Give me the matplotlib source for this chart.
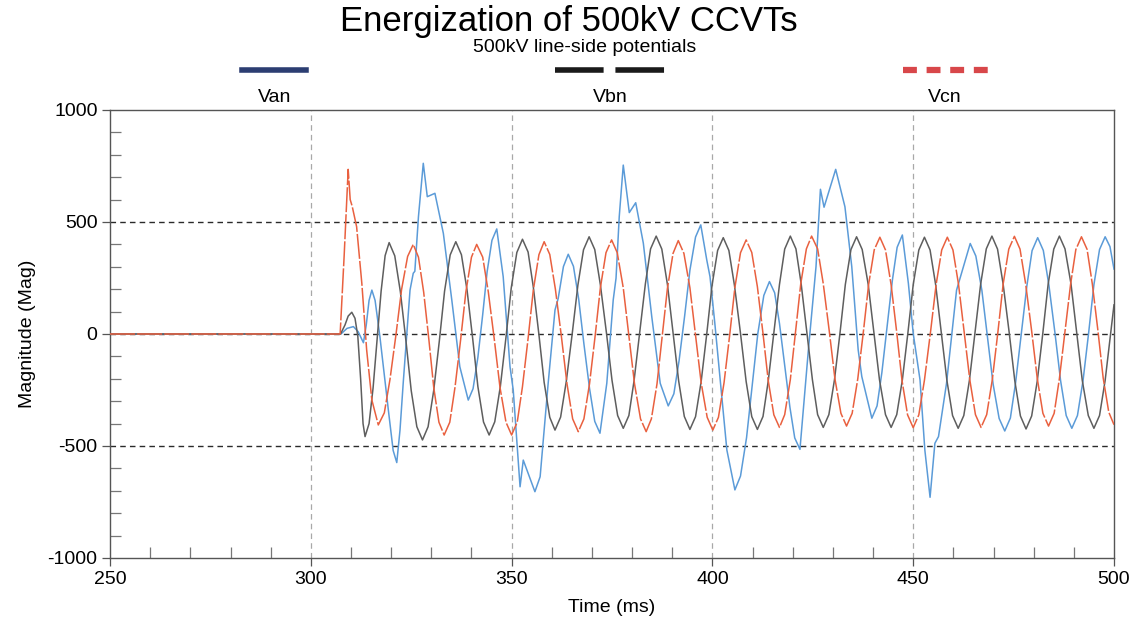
import numpy as np
import matplotlib
matplotlib.use("Agg")
import matplotlib.pyplot as plt
from matplotlib.lines import Line2D
from matplotlib.ticker import MultipleLocator

plt.rcParams['font.family'] = ['Liberation Sans Narrow', 'Liberation Sans', 'DejaVu Sans']
plt.rcParams['lines.scale_dashes'] = False
plt.rcParams['axes.unicode_minus'] = False

TITLE = "Energization of 500kV CCVTs"
SUBTITLE = "500kV line-side potentials"
SERIES_NAMES = ["Van", "Vbn", "Vcn"]

# (time ms, magnitude) points
VAN = [
    (250, 0), (307.5, 0), (309.0, 25), (310.6, 33), (311.8, 10), (313.1, -39),
    (313.8, 40), (314.5, 150), (315.2, 196), (316.0, 150), (317.2, -12),
    (319.3, -339), (320.5, -520), (321.4, -574), (322.2, -430), (323.0, -220),
    (324.7, 196), (325.5, 271), (325.9, 280), (326.8, 524), (328.0, 762),
    (329.0, 613), (330.9, 628), (333.0, 449), (335.1, 152), (337.1, -146),
    (339.2, -295), (340.4, -244), (341.6, -104), (342.8, 87), (343.9, 278),
    (345.1, 418), (346.3, 469), (347.9, 256), (349.6, -146), (350.4, -250),
    (352.1, -682), (352.9, -563), (355.8, -704), (357.1, -637), (359.1, -220),
    (360.8, 107), (361.6, 159), (362.9, 301), (364.1, 356), (365.4, 302),
    (366.7, 156), (368.0, -44), (369.4, -243), (370.7, -390), (372.0, -443),
    (373.7, -220), (375.3, 152), (376.0, 249), (376.8, 524), (377.8, 754),
    (379.3, 542), (380.9, 586), (382.8, 405), (384.9, 77), (387.0, -220),
    (389.0, -321), (390.4, -267), (391.7, -119), (393.1, 83), (394.4, 285),
    (395.8, 433), (397.1, 487), (398.6, 330), (399.4, 256), (400.6, 48),
    (401.9, -198), (403.6, -518), (405.6, -696), (407.0, -634), (408.5, -463),
    (409.9, -231), (411.3, 1), (412.8, 172), (414.2, 234), (415.5, 184),
    (416.7, 47), (418.0, -140), (419.3, -327), (420.5, -464), (421.8, -515),
    (423.9, -71), (425.8, 301), (426.9, 646), (427.8, 566), (430.7, 735),
    (433.0, 568), (434.7, 301), (436.3, -71), (437.2, -190), (439.7, -376),
    (441.0, -321), (442.2, -172), (443.5, 33), (444.8, 238), (446.0, 387),
    (447.3, 442), (448.8, 226), (450.0, 3), (451.7, -205), (452.9, -518),
    (454.2, -729), (455.4, -488), (456.3, -458), (458.3, -220), (460.8, 196),
    (464.2, 404), (465.6, 348), (467.1, 195), (468.5, -15), (469.9, -224),
    (471.4, -377), (472.8, -433), (474.2, -375), (475.5, -217), (476.9, -2),
    (478.3, 214), (479.6, 372), (481.0, 430), (482.4, 373), (483.8, 217),
    (485.3, 5), (486.7, -208), (488.1, -364), (489.5, -421), (490.9, -364),
    (492.3, -207), (493.7, 7), (495.0, 220), (496.4, 377), (497.8, 434),
    (499.0, 390), (500.0, 290),
]

VBN = [
    (250, 0), (307.4, 0), (308.5, 40), (309.3, 80), (310.2, 97), (311.0, 70),
    (311.7, -10), (312.4, -200), (313.0, -400), (313.5, -458),
    (314.5, -400), (315.5, -241), (316.5, -25), (317.5, 191), (318.5, 350), (319.5, 408),
    (320.9, 349), (322.3, 188), (323.7, -33), (325.0, -253), (326.4, -414), (327.8, -473),
    (329.2, -414), (330.6, -252), (332.0, -31), (333.3, 191), (334.7, 353), (336.1, 412),
    (337.5, 354), (338.9, 196), (340.3, -20), (341.6, -235), (343.0, -393), (344.4, -451),
    (345.8, -392), (347.2, -233), (348.6, -14), (349.9, 205), (351.3, 364), (352.7, 423),
    (354.1, 366), (355.4, 210), (356.8, -3), (358.1, -216), (359.5, -372), (360.8, -429),
    (362.2, -371), (363.6, -213), (365.1, 3), (366.5, 218), (367.9, 376), (369.3, 434),
    (370.7, 377), (372.1, 220), (373.6, 7), (375.0, -207), (376.4, -364), (377.8, -421),
    (379.2, -364), (380.5, -207), (381.9, 8), (383.3, 223), (384.6, 380), (386.0, 437),
    (387.4, 379), (388.8, 221), (390.2, 6), (391.6, -210), (393.0, -368), (394.4, -426),
    (395.8, -369), (397.2, -212), (398.6, 2), (399.9, 216), (401.3, 373), (402.7, 430),
    (404.1, 373), (405.5, 216), (407.0, 2), (408.4, -212), (409.8, -369), (411.2, -426),
    (412.6, -368), (413.9, -210), (415.3, 6), (416.7, 221), (418.0, 379), (419.4, 437),
    (420.8, 380), (422.1, 224), (423.5, 10), (424.9, -204), (426.2, -360), (427.6, -417),
    (429.0, -360), (430.4, -204), (431.8, 9), (433.1, 221), (434.5, 377), (435.9, 434),
    (437.3, 377), (438.8, 221), (440.2, 9), (441.6, -204), (443.1, -360), (444.5, -417),
    (445.9, -360), (447.3, -205), (448.7, 8), (450.0, 220), (451.4, 375), (452.8, 432),
    (454.2, 375), (455.6, 219), (457.0, 6), (458.4, -208), (459.8, -364), (461.2, -421),
    (462.6, -364), (464.0, -207), (465.4, 8), (466.8, 223), (468.2, 380), (469.6, 437),
    (471.0, 379), (472.4, 222), (473.9, 7), (475.3, -209), (476.7, -366), (478.1, -424),
    (479.5, -366), (480.9, -209), (482.3, 7), (483.6, 222), (485.0, 379), (486.4, 437),
    (487.8, 380), (489.3, 223), (490.7, 8), (492.1, -207), (493.6, -364), (495.0, -421),
    (496.4, -364), (497.8, -207), (499.2, 8), (500.0, 130),
]

VCN = [
    (250, 0), (307.3, 0), (308.3, 350), (309.3, 735), (309.8, 600), (310.3, 570),
    (311.4, 479), (312.7, 226), (313.9, -71), (315.2, -295), (316.8, -406),
    (318.3, -352), (319.7, -204), (321.2, -3), (322.6, 199), (324.1, 346), (325.5, 400),
    (326.8, 343), (328.1, 187), (329.4, -26), (330.6, -238), (331.9, -394), (333.2, -451),
    (334.6, -394), (335.9, -238), (337.3, -26), (338.6, 187), (340.0, 343), (341.3, 400),
    (342.8, 343), (344.2, 187), (345.7, -26), (347.1, -238), (348.6, -394), (350.0, -451),
    (351.4, -393), (352.7, -235), (354.1, -20), (355.4, 196), (356.8, 354), (358.1, 412),
    (359.5, 355), (360.9, 200), (362.4, -12), (363.8, -224), (365.2, -379), (366.6, -436),
    (368.0, -379), (369.4, -222), (370.8, -8), (372.1, 206), (373.5, 363), (374.9, 420),
    (376.3, 363), (377.8, 206), (379.2, -8), (380.6, -222), (382.1, -379), (383.5, -436),
    (384.8, -379), (386.2, -223), (387.5, -10), (388.8, 204), (390.2, 360), (391.5, 417),
    (392.9, 360), (394.4, 206), (395.8, -6), (397.2, -218), (398.7, -372), (400.1, -429),
    (401.5, -372), (402.9, -217), (404.3, -5), (405.6, 208), (407.0, 363), (408.4, 420),
    (409.8, 364), (411.2, 211), (412.6, 2), (413.9, -208), (415.3, -361), (416.7, -417),
    (418.0, -360), (419.4, -204), (420.7, 10), (422.0, 224), (423.4, 380), (424.7, 437),
    (426.2, 380), (427.6, 225), (429.1, 13), (430.5, -199), (432.0, -354), (433.4, -411),
    (434.8, -354), (436.2, -200), (437.6, 11), (438.9, 221), (440.3, 376), (441.7, 432),
    (443.1, 375), (444.5, 220), (445.9, 7), (447.2, -206), (448.6, -361), (450.0, -418),
    (451.4, -361), (452.8, -206), (454.3, 7), (455.7, 220), (457.1, 375), (458.5, 432),
    (459.9, 375), (461.3, 220), (462.7, 8), (464.1, -205), (465.5, -360), (466.9, -417),
    (468.3, -360), (469.7, -204), (471.1, 10), (472.4, 223), (473.8, 379), (475.2, 436),
    (476.6, 379), (478.0, 224), (479.5, 13), (480.9, -199), (482.3, -354), (483.7, -411),
    (485.1, -354), (486.4, -200), (487.8, 12), (489.2, 223), (490.5, 377), (491.9, 434),
    (493.3, 378), (494.6, 224), (496.0, 15), (497.3, -195), (498.7, -349), (500.0, -405),
]

XLIM = (250, 500)
YLIM = (-1000, 1000)
VGRID = [300, 350, 400, 450]
HGRID = [-500, 0, 500]

fig = plt.figure(figsize=(11.38, 6.20), dpi=100)
ax = fig.add_axes([0.0967, 0.1, 0.8822, 0.7226])

for x in VGRID:
    ax.axvline(x, color='#a8a8a8', lw=0.9, ls=(0, (4, 3)), zorder=1)
for y in HGRID:
    ax.axhline(y, color='#2a2a2a', lw=1.0, ls=(0, (4, 3)), zorder=1)

t, v = np.array(VAN).T
ax.plot(t, v, color='#5b9bd8', lw=1.1, zorder=3)
t, v = np.array(VBN).T
ax.plot(t, v, color='#5e5e5e', lw=1.1, zorder=4)
t, v = np.array(VCN).T
ax.plot(t, v, color='#e9603f', lw=1.1, ls=(0, (18, 1.5)), zorder=5)

ax.set_xlim(*XLIM)
ax.set_ylim(*YLIM)
ax.xaxis.set_major_locator(MultipleLocator(50))
ax.xaxis.set_minor_locator(MultipleLocator(10))
ax.yaxis.set_major_locator(MultipleLocator(500))
ax.yaxis.set_minor_locator(MultipleLocator(100))
ax.tick_params(which='major', direction='out', length=6, width=0.9, color='#555555',
               labelsize=14, pad=3)
ax.tick_params(which='minor', direction='in', length=8, width=0.9, color='#777777')
for s in ax.spines.values():
    s.set_color('#555555')
    s.set_linewidth(1.0)

ax.set_xlabel("Time (ms)", fontsize=14, labelpad=8)
ax.set_ylabel("Magnitude (Mag)", fontsize=14, labelpad=8)

fig.text(0.50, 0.965, TITLE, ha='center', va='center', fontsize=25)
fig.text(0.514, 0.923, SUBTITLE, ha='center', va='center', fontsize=14)

# legend across the top, label under each line sample
leg_y = 1 - 70 / 620
lab_y = 1 - 97 / 620
fig.add_artist(Line2D([242 / 1138, 306 / 1138], [leg_y, leg_y], transform=fig.transFigure,
                      color='#2c3e72', lw=4))
fig.add_artist(Line2D([555 / 1138, 665 / 1138], [leg_y, leg_y], transform=fig.transFigure,
                      color='#1a1a1a', lw=4, ls=(0, (35, 8.5)), solid_capstyle='butt',
                      dash_capstyle='butt'))
fig.add_artist(Line2D([903 / 1138, 988 / 1138], [leg_y, leg_y], transform=fig.transFigure,
                      color='#d8474a', lw=4.5, ls=(0, (10, 7)), dash_capstyle='butt'))
for name, cx in zip(SERIES_NAMES, [275, 610, 945]):
    fig.text(cx / 1138, lab_y, name, ha='center', va='center', fontsize=14)

fig.savefig("out.png", dpi=100)
